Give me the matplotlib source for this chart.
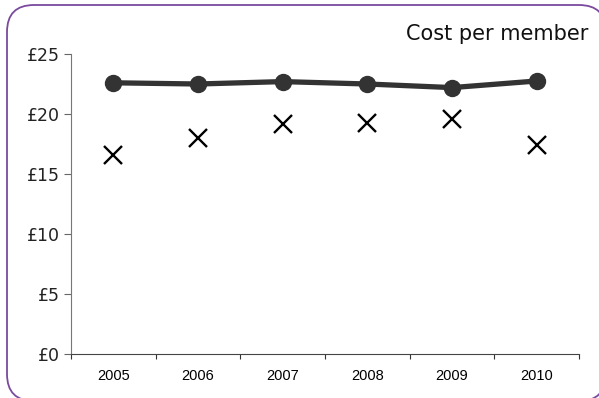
import matplotlib
matplotlib.use("Agg")
import matplotlib.pyplot as plt
from matplotlib.patches import FancyBboxPatch

years = ["2005", "2006", "2007", "2008", "2009", "2010"]
cost_line = [22.6, 22.5, 22.7, 22.5, 22.2, 22.75]
cost_cross = [16.6, 18.0, 19.2, 19.25, 19.55, 17.4]
y_ticks = [0, 5, 10, 15, 20, 25]
y_labels = ["£0", "£5", "£10", "£15", "£20", "£25"]

W, H = 599, 398
fig = plt.figure(figsize=(W / 100, H / 100), dpi=100)

# background axes in pixel units, used for the rounded frame
bg = fig.add_axes([0, 0, 1, 1])
bg.set_xlim(0, W)
bg.set_ylim(0, H)
bg.axis("off")
# filled so Agg doesn't clip the stroke against the canvas edge
bg.add_patch(FancyBboxPatch((7, -3), 599, 396,
                            boxstyle="round,pad=0,rounding_size=27",
                            facecolor="white", edgecolor="#7a4a9e", linewidth=1.3,
                            clip_on=False))

ax = fig.add_axes([71 / W, 44 / H, 508 / W, 300 / H])
ax.patch.set_alpha(0)

x = list(range(len(years)))
ax.plot(x, cost_line, "-o", color="#333333", linewidth=3.8, markersize=11.5, zorder=3)
ax.plot(x, cost_cross, "x", color="black", markersize=13, markeredgewidth=1.7,
        linestyle="none", zorder=3)

ax.set_xlim(-0.5, len(years) - 0.5)
ax.set_ylim(0, 25)
ax.set_yticks(y_ticks)
ax.set_yticklabels(y_labels, fontfamily="DejaVu Sans", fontsize=12.5, color="#222222")
# category boundaries get the ticks, labels sit between them
ax.set_xticks([i - 0.5 for i in range(len(years) + 1)])
ax.set_xticklabels([])
ax.set_xticks(x, minor=True)
ax.set_xticklabels(years, minor=True, fontfamily="Liberation Sans", fontsize=10.5)
ax.tick_params(axis="x", which="minor", length=0, pad=11)
ax.tick_params(axis="x", which="major", length=3.5, direction="out", color="#333333")
ax.tick_params(axis="y", length=5, direction="out", color="#666666", pad=3)

for s in ["top", "right"]:
    ax.spines[s].set_visible(False)
ax.spines["left"].set_color("#777777")
ax.spines["bottom"].set_color("#444444")

fig.text(588 / W, 1 - 34 / H, "Cost per member", ha="right", va="center",
         fontfamily="DejaVu Sans", fontsize=15, color="#111111")

fig.savefig("out.png", dpi=100)
